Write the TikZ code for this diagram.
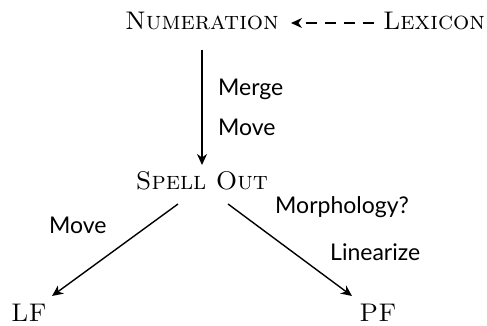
\documentclass[tikz,border=0pt]{standalone}
\usepackage{fontspec}
\newfontfamily\lab{Lato}
\usetikzlibrary{arrows.meta}
\begin{document}
\begin{tikzpicture}[x=1pt,y=-1pt,
  sc/.style={font=\fontsize{25.5}{27}\selectfont\scshape, inner sep=0pt, anchor=base},
  lb/.style={font=\fontsize{23}{25}\selectfont\lab, inner sep=0pt, anchor=base west},
  arr/.style={-{Stealth[length=11pt,width=10pt,inset=3.5pt]}, line width=1.4pt}]
\path[use as bounding box] (0,0) rectangle (487,325);
\node[sc] (num) at (202,29) {Numeration};
\node[sc] (lex) at (434,29) {Lexicon};
\node[sc] (so) at (202,189) {Spell Out};
\node[sc] (lf) at (29,321.5) {LF};
\node[sc] (pf) at (378,321.5) {PF};
\node[lb] (merge) at (218,95) {Merge};
\node[lb] (move1) at (218,135) {Move};
\node[lb] (move2) at (49,233) {Move};
\node[lb] (morph) at (275,213) {Morphology?};
\node[lb] (lin) at (330,260) {Linearize};
\draw[arr] ([yshift=-21pt]num.base) -- ([yshift=24pt]so.base);
\draw[arr, dash pattern=on 11pt off 8pt] ([shift={(-9pt,6pt)}]lex.base west) -- ([shift={(12pt,6pt)}]num.base east);
\draw[arr] ([shift={(-24pt,-15pt)}]so.base) -- ([shift={(23pt,25.5pt)}]lf.base);
\draw[arr] ([shift={(26pt,-15pt)}]so.base) -- ([shift={(-26pt,25.5pt)}]pf.base);
\end{tikzpicture}
\end{document}
